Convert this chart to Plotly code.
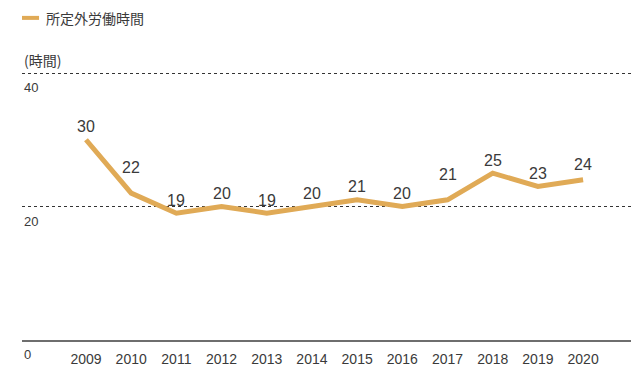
import plotly.graph_objects as go

# Overtime hours per year
years = [2009, 2010, 2011, 2012, 2013, 2014, 2015, 2016, 2017, 2018, 2019, 2020]
hours = [30, 22, 19, 20, 19, 20, 21, 20, 21, 25, 23, 24]
y_ticks = [0, 20, 40]
series_name = "所定外労働時間"
unit_label = "(時間)"

LINE_COLOR = "#E0AA56"
TEXT_COLOR = "#3A3A3A"
FONT = "Liberation Sans, Arial, Noto Sans CJK JP, sans-serif"
CJK_FONT = "Noto Sans CJK JP, sans-serif"

# extra lift (px) for value labels that would otherwise sit on the line
label_lift = [0, 13, 0, 0, 0, 0, 0, 0, 12, 0, 0, 2]

fig = go.Figure()
fig.add_trace(go.Scatter(
    x=years, y=hours, mode="lines",
    line=dict(color=LINE_COLOR, width=5),
    name=series_name, showlegend=False, hoverinfo="x+y",
))

annotations = []
for x, y, lift in zip(years, hours, label_lift):
    annotations.append(dict(
        x=x, y=y, xref="x", yref="y", text=str(y), showarrow=False,
        yanchor="middle", yshift=13 + lift,
        font=dict(family=FONT, size=16, color=TEXT_COLOR),
    ))

# y tick labels sit just below their reference lines
for v in y_ticks:
    annotations.append(dict(
        x=0, y=v, xref="paper", yref="y", text=str(v), showarrow=False,
        xanchor="left", yanchor="top", yshift=-5,
        font=dict(family=FONT, size=13, color=TEXT_COLOR),
    ))

annotations.append(dict(
    x=0, y=1.037, xref="paper", yref="paper", text=unit_label, showarrow=False,
    xanchor="left", yanchor="middle",
    font=dict(family=CJK_FONT, size=14, color=TEXT_COLOR),
))
annotations.append(dict(
    x=0.036, y=1.193, xref="paper", yref="paper", text=series_name, showarrow=False,
    xanchor="left", yanchor="middle",
    font=dict(family=CJK_FONT, size=14, color=TEXT_COLOR),
))

shapes = [dict(
    type="line", xref="paper", yref="paper",
    x0=0, x1=0.028, y0=1.193, y1=1.193,
    line=dict(color=LINE_COLOR, width=4),
)]

fig.update_layout(
    width=631, height=368,
    margin=dict(l=22, r=0, t=70, b=28),
    paper_bgcolor="white", plot_bgcolor="white",
    annotations=annotations, shapes=shapes,
    showlegend=False,
    xaxis=dict(
        range=[2007.584, 2021.06],
        tickmode="array", tickvals=years, ticktext=[str(y) for y in years],
        showgrid=False, zeroline=False,
        showline=True, linecolor="#6E6E6E", linewidth=1.5,
        ticks="", ticklabelstandoff=5,
        tickfont=dict(family=FONT, size=14, color=TEXT_COLOR),
    ),
    yaxis=dict(
        range=[0, 40.45],
        tickmode="array", tickvals=[20, 40], showticklabels=False,
        showgrid=True, gridcolor="#333333", gridwidth=1, griddash="3px,3px",
        zeroline=False, showline=False,
    ),
)

fig.write_html("out.html")
